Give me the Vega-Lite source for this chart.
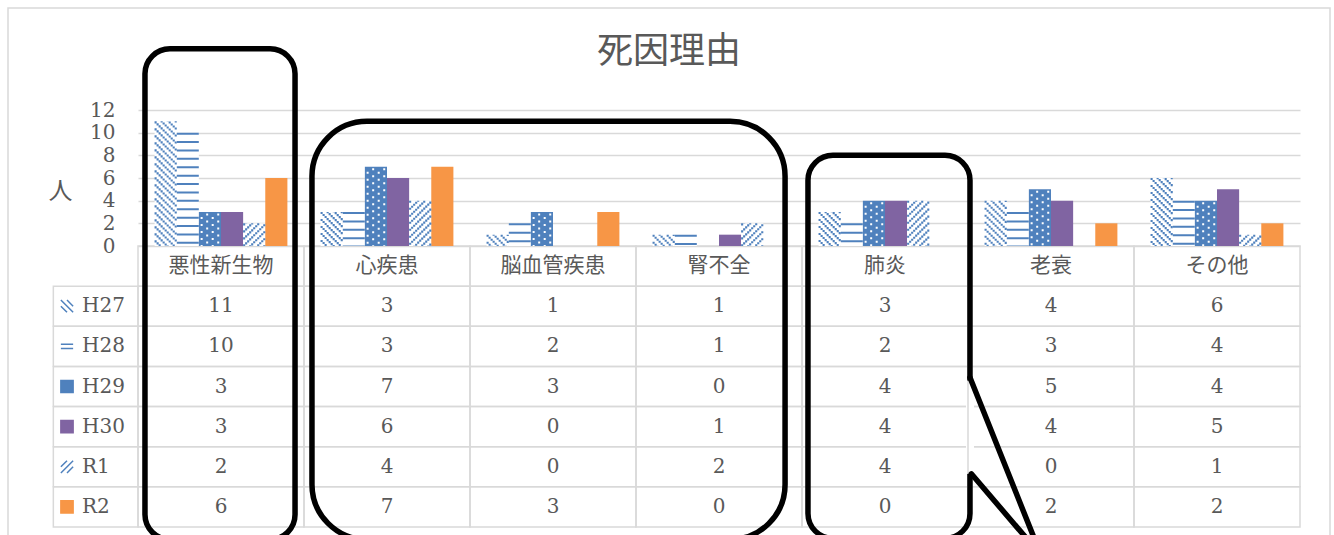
{
  "$schema": "https://vega.github.io/schema/vega-lite/v6.json",
  "autosize": "none",
  "width": 1322,
  "height": 540,
  "padding": {"left": 8, "top": 8, "right": 4, "bottom": 0},
  "background": "white",
  "config": {"view": {"stroke": "#d9d9d9", "strokeWidth": 1.5}},
  "title": {"text": "死因理由", "font": "Noto Sans CJK JP", "fontSize": 36, "fontWeight": "normal", "color": "#595959", "anchor": "middle", "frame": "group", "offset": -91, "baseline": "alphabetic"},
  "datasets": {
    "values": [
      {"cat": "悪性新生物", "series": "H27", "value": 11}, {"cat": "悪性新生物", "series": "H28", "value": 10}, {"cat": "悪性新生物", "series": "H29", "value": 3}, {"cat": "悪性新生物", "series": "H30", "value": 3}, {"cat": "悪性新生物", "series": "R1", "value": 2}, {"cat": "悪性新生物", "series": "R2", "value": 6},
      {"cat": "心疾患", "series": "H27", "value": 3}, {"cat": "心疾患", "series": "H28", "value": 3}, {"cat": "心疾患", "series": "H29", "value": 7}, {"cat": "心疾患", "series": "H30", "value": 6}, {"cat": "心疾患", "series": "R1", "value": 4}, {"cat": "心疾患", "series": "R2", "value": 7},
      {"cat": "脳血管疾患", "series": "H27", "value": 1}, {"cat": "脳血管疾患", "series": "H28", "value": 2}, {"cat": "脳血管疾患", "series": "H29", "value": 3}, {"cat": "脳血管疾患", "series": "H30", "value": 0}, {"cat": "脳血管疾患", "series": "R1", "value": 0}, {"cat": "脳血管疾患", "series": "R2", "value": 3},
      {"cat": "腎不全", "series": "H27", "value": 1}, {"cat": "腎不全", "series": "H28", "value": 1}, {"cat": "腎不全", "series": "H29", "value": 0}, {"cat": "腎不全", "series": "H30", "value": 1}, {"cat": "腎不全", "series": "R1", "value": 2}, {"cat": "腎不全", "series": "R2", "value": 0},
      {"cat": "肺炎", "series": "H27", "value": 3}, {"cat": "肺炎", "series": "H28", "value": 2}, {"cat": "肺炎", "series": "H29", "value": 4}, {"cat": "肺炎", "series": "H30", "value": 4}, {"cat": "肺炎", "series": "R1", "value": 4}, {"cat": "肺炎", "series": "R2", "value": 0},
      {"cat": "老衰", "series": "H27", "value": 4}, {"cat": "老衰", "series": "H28", "value": 3}, {"cat": "老衰", "series": "H29", "value": 5}, {"cat": "老衰", "series": "H30", "value": 4}, {"cat": "老衰", "series": "R1", "value": 0}, {"cat": "老衰", "series": "R2", "value": 2},
      {"cat": "その他", "series": "H27", "value": 6}, {"cat": "その他", "series": "H28", "value": 4}, {"cat": "その他", "series": "H29", "value": 4}, {"cat": "その他", "series": "H30", "value": 5}, {"cat": "その他", "series": "R1", "value": 1}, {"cat": "その他", "series": "R2", "value": 2}
    ],
    "cats": [{"cat": "悪性新生物"}, {"cat": "心疾患"}, {"cat": "脳血管疾患"}, {"cat": "腎不全"}, {"cat": "肺炎"}, {"cat": "老衰"}, {"cat": "その他"}],
    "series": [{"series": "H27"}, {"series": "H28"}, {"series": "H29"}, {"series": "H30"}, {"series": "R1"}, {"series": "R2"}]
  },
  "layer": [
    {
      "layer": [
        {"data": {"name": "values"}, "mark": {"type": "rect", "fill": "transparent", "stroke": "#d9d9d9", "strokeWidth": 1.5},
         "encoding": {
           "x": {"field": "cat", "type": "nominal", "scale": {"type": "band", "domain": ["悪性新生物","心疾患","脳血管疾患","腎不全","肺炎","老衰","その他"], "range": [130, 1292], "paddingInner": 0, "paddingOuter": 0}, "axis": null},
           "y": {"field": "series", "type": "nominal", "scale": {"type": "band", "domain": ["_cat","H27","H28","H29","H30","R1","R2"], "range": [238, 519], "paddingInner": 0, "paddingOuter": 0}, "axis": null}}},
        {"data": {"name": "cats"}, "mark": {"type": "rect", "fill": "transparent", "stroke": "#d9d9d9", "strokeWidth": 1.5},
         "encoding": {
           "x": {"field": "cat", "type": "nominal", "scale": {"type": "band", "domain": ["悪性新生物","心疾患","脳血管疾患","腎不全","肺炎","老衰","その他"], "range": [130, 1292], "paddingInner": 0, "paddingOuter": 0}, "axis": null},
           "y": {"datum": "_cat", "type": "nominal", "scale": {"type": "band", "domain": ["_cat","H27","H28","H29","H30","R1","R2"], "range": [238, 519], "paddingInner": 0, "paddingOuter": 0}, "axis": null}}},
        {"data": {"name": "series"}, "mark": {"type": "rect", "fill": "transparent", "stroke": "#d9d9d9", "strokeWidth": 1.5},
         "encoding": {
           "x": {"datum": "悪性新生物", "type": "nominal", "bandPosition": -0.51, "scale": {"type": "band", "domain": ["悪性新生物","心疾患","脳血管疾患","腎不全","肺炎","老衰","その他"], "range": [130, 1292], "paddingInner": 0, "paddingOuter": 0}, "axis": null},
           "x2": {"datum": "悪性新生物", "bandPosition": 0},
           "y": {"field": "series", "type": "nominal", "scale": {"type": "band", "domain": ["_cat","H27","H28","H29","H30","R1","R2"], "range": [238, 519], "paddingInner": 0, "paddingOuter": 0}, "axis": null}}},
        {"data": {"name": "values"}, "mark": {"type": "text", "font": "DejaVu Serif", "fontSize": 20, "color": "#595959", "baseline": "middle", "align": "center"},
         "encoding": {
           "x": {"field": "cat", "type": "nominal", "scale": {"type": "band", "domain": ["悪性新生物","心疾患","脳血管疾患","腎不全","肺炎","老衰","その他"], "range": [130, 1292], "paddingInner": 0, "paddingOuter": 0}, "axis": null},
           "y": {"field": "series", "type": "nominal", "scale": {"type": "band", "domain": ["_cat","H27","H28","H29","H30","R1","R2"], "range": [238, 519], "paddingInner": 0, "paddingOuter": 0}, "axis": null},
           "text": {"field": "value", "type": "quantitative"}}},
        {"data": {"name": "cats"}, "mark": {"type": "text", "font": "Noto Sans CJK JP", "fontSize": 21, "color": "#595959", "baseline": "middle", "align": "center"},
         "encoding": {
           "x": {"field": "cat", "type": "nominal", "scale": {"type": "band", "domain": ["悪性新生物","心疾患","脳血管疾患","腎不全","肺炎","老衰","その他"], "range": [130, 1292], "paddingInner": 0, "paddingOuter": 0}, "axis": null},
           "y": {"datum": "_cat", "type": "nominal", "scale": {"type": "band", "domain": ["_cat","H27","H28","H29","H30","R1","R2"], "range": [238, 519], "paddingInner": 0, "paddingOuter": 0}, "axis": null},
           "text": {"field": "cat", "type": "nominal"}}},
        {"data": {"name": "series"}, "mark": {"type": "text", "font": "DejaVu Serif", "fontSize": 20, "color": "#595959", "baseline": "middle", "align": "left"},
         "encoding": {
           "x": {"datum": "悪性新生物", "type": "nominal", "bandPosition": -0.337, "scale": {"type": "band", "domain": ["悪性新生物","心疾患","脳血管疾患","腎不全","肺炎","老衰","その他"], "range": [130, 1292], "paddingInner": 0, "paddingOuter": 0}, "axis": null},
           "y": {"field": "series", "type": "nominal", "scale": {"type": "band", "domain": ["_cat","H27","H28","H29","H30","R1","R2"], "range": [238, 519], "paddingInner": 0, "paddingOuter": 0}, "axis": null},
           "text": {"field": "series", "type": "nominal"}}},
        {"data": {"name": "series"}, "mark": {"type": "point", "filled": true, "size": 150, "strokeWidth": 1.5, "opacity": 1},
         "encoding": {
           "x": {"datum": "悪性新生物", "type": "nominal", "bandPosition": -0.4277, "scale": {"type": "band", "domain": ["悪性新生物","心疾患","脳血管疾患","腎不全","肺炎","老衰","その他"], "range": [130, 1292], "paddingInner": 0, "paddingOuter": 0}, "axis": null},
           "y": {"field": "series", "type": "nominal", "scale": {"type": "band", "domain": ["_cat","H27","H28","H29","H30","R1","R2"], "range": [238, 519], "paddingInner": 0, "paddingOuter": 0}, "axis": null},
           "shape": {"field": "series", "type": "nominal", "scale": {"domain": ["H27","H28","H29","H30","R1","R2"], "range": ["M-1,-1L1,1M-1,0L0,1M0,-1L1,0", "M-1,-0.35L1,-0.35M-1,0.35L1,0.35", "square", "square", "M-1,1L1,-1M-1,0L0,-1M0,1L1,0", "square"]}, "legend": null},
           "fill": {"field": "series", "type": "nominal", "scale": {"domain": ["H27","H28","H29","H30","R1","R2"], "range": ["#ffffff","#ffffff","#4F81BD","#8064A2","#ffffff","#F79646"]}, "legend": null},
           "stroke": {"field": "series", "type": "nominal", "scale": {"domain": ["H27","H28","H29","H30","R1","R2"], "range": ["#4F81BD","#4F81BD","#4F81BD","#8064A2","#4F81BD","#F79646"]}, "legend": null}}}
      ]
    },
    {
      "layer": [
        {"data": {"name": "values"}, "mark": {"type": "bar"},
         "encoding": {
           "x": {"field": "cat", "type": "nominal", "scale": {"type": "band", "domain": ["悪性新生物","心疾患","脳血管疾患","腎不全","肺炎","老衰","その他"], "range": [130, 1292], "paddingInner": 0, "paddingOuter": 0}, "axis": null},
           "xOffset": {"field": "series", "type": "nominal", "scale": {"type": "band", "domain": ["H27","H28","H29","H30","R1","R2"], "paddingInner": 0, "paddingOuter": 0.75}},
           "y": {"field": "value", "type": "quantitative", "scale": {"domain": [0, 12], "range": [238, 102], "nice": false, "zero": false},
                 "axis": {"orient": "left", "offset": -130, "values": [0, 2, 4, 6, 8, 10, 12], "grid": true, "gridColor": "#d9d9d9", "gridWidth": 1.5, "domain": false, "ticks": false, "tickSize": 0, "labelFont": "DejaVu Serif", "labelFontSize": 20, "labelColor": "#595959", "labelPadding": 23, "labelOverlap": false,
                          "title": "人", "titleAngle": 0, "titleX": -78, "titleY": 183, "titleAlign": "center", "titleBaseline": "middle", "titleFont": "Noto Sans CJK JP", "titleFontSize": 24, "titleFontWeight": "normal", "titleColor": "#595959"}},
           "fill": {"field": "series", "type": "nominal", "scale": {"domain": ["H27","H28","H29","H30","R1","R2"], "range": ["#ffffff","#ffffff","#4F81BD","#8064A2","#ffffff","#F79646"]}, "legend": null}}},
        {"data": {"name": "values"}, "transform": [{"filter": "datum.series === 'H28'"}], "mark": {"type": "rule", "stroke": "#4F81BD", "strokeWidth": 22, "strokeDash": [2, 6.4]},
         "encoding": {"x": {"field": "cat", "type": "nominal", "bandPosition": 0.3, "scale": {"type": "band", "domain": ["悪性新生物","心疾患","脳血管疾患","腎不全","肺炎","老衰","その他"], "range": [130, 1292], "paddingInner": 0, "paddingOuter": 0}, "axis": null}, "y": {"field": "value", "type": "quantitative", "scale": {"domain": [0, 12], "range": [238, 102], "nice": false, "zero": false}}, "y2": {"datum": 0}}},
        {"data": {"name": "values"}, "transform": [{"filter": "datum.series === 'H27'"}], "mark": {"type": "rule", "stroke": "#4F81BD", "strokeWidth": 2.1, "strokeDash": [2.1, 4.9], "strokeDashOffset": 0},
         "encoding": {"x": {"field": "cat", "type": "nominal", "bandPosition": 0.10606, "scale": {"type": "band", "domain": ["悪性新生物","心疾患","脳血管疾患","腎不全","肺炎","老衰","その他"], "range": [130, 1292], "paddingInner": 0, "paddingOuter": 0}, "axis": null}, "y": {"field": "value", "type": "quantitative", "scale": {"domain": [0, 12], "range": [238, 102], "nice": false, "zero": false}}, "y2": {"datum": 0}}},
        {"data": {"name": "values"}, "transform": [{"filter": "datum.series === 'H27'"}], "mark": {"type": "rule", "stroke": "#4F81BD", "strokeWidth": 2.1, "strokeDash": [2.1, 4.9], "strokeDashOffset": 4.988},
         "encoding": {"x": {"field": "cat", "type": "nominal", "bandPosition": 0.11818, "scale": {"type": "band", "domain": ["悪性新生物","心疾患","脳血管疾患","腎不全","肺炎","老衰","その他"], "range": [130, 1292], "paddingInner": 0, "paddingOuter": 0}, "axis": null}, "y": {"field": "value", "type": "quantitative", "scale": {"domain": [0, 12], "range": [238, 102], "nice": false, "zero": false}}, "y2": {"datum": 0}}},
        {"data": {"name": "values"}, "transform": [{"filter": "datum.series === 'H27'"}], "mark": {"type": "rule", "stroke": "#4F81BD", "strokeWidth": 2.1, "strokeDash": [2.1, 4.9], "strokeDashOffset": 2.976},
         "encoding": {"x": {"field": "cat", "type": "nominal", "bandPosition": 0.1303, "scale": {"type": "band", "domain": ["悪性新生物","心疾患","脳血管疾患","腎不全","肺炎","老衰","その他"], "range": [130, 1292], "paddingInner": 0, "paddingOuter": 0}, "axis": null}, "y": {"field": "value", "type": "quantitative", "scale": {"domain": [0, 12], "range": [238, 102], "nice": false, "zero": false}}, "y2": {"datum": 0}}},
        {"data": {"name": "values"}, "transform": [{"filter": "datum.series === 'H27'"}], "mark": {"type": "rule", "stroke": "#4F81BD", "strokeWidth": 2.1, "strokeDash": [2.1, 4.9], "strokeDashOffset": 0.964},
         "encoding": {"x": {"field": "cat", "type": "nominal", "bandPosition": 0.14242, "scale": {"type": "band", "domain": ["悪性新生物","心疾患","脳血管疾患","腎不全","肺炎","老衰","その他"], "range": [130, 1292], "paddingInner": 0, "paddingOuter": 0}, "axis": null}, "y": {"field": "value", "type": "quantitative", "scale": {"domain": [0, 12], "range": [238, 102], "nice": false, "zero": false}}, "y2": {"datum": 0}}},
        {"data": {"name": "values"}, "transform": [{"filter": "datum.series === 'H27'"}], "mark": {"type": "rule", "stroke": "#4F81BD", "strokeWidth": 2.1, "strokeDash": [2.1, 4.9], "strokeDashOffset": 5.952},
         "encoding": {"x": {"field": "cat", "type": "nominal", "bandPosition": 0.15455, "scale": {"type": "band", "domain": ["悪性新生物","心疾患","脳血管疾患","腎不全","肺炎","老衰","その他"], "range": [130, 1292], "paddingInner": 0, "paddingOuter": 0}, "axis": null}, "y": {"field": "value", "type": "quantitative", "scale": {"domain": [0, 12], "range": [238, 102], "nice": false, "zero": false}}, "y2": {"datum": 0}}},
        {"data": {"name": "values"}, "transform": [{"filter": "datum.series === 'H27'"}], "mark": {"type": "rule", "stroke": "#4F81BD", "strokeWidth": 2.1, "strokeDash": [2.1, 4.9], "strokeDashOffset": 3.94},
         "encoding": {"x": {"field": "cat", "type": "nominal", "bandPosition": 0.16667, "scale": {"type": "band", "domain": ["悪性新生物","心疾患","脳血管疾患","腎不全","肺炎","老衰","その他"], "range": [130, 1292], "paddingInner": 0, "paddingOuter": 0}, "axis": null}, "y": {"field": "value", "type": "quantitative", "scale": {"domain": [0, 12], "range": [238, 102], "nice": false, "zero": false}}, "y2": {"datum": 0}}},
        {"data": {"name": "values"}, "transform": [{"filter": "datum.series === 'H27'"}], "mark": {"type": "rule", "stroke": "#4F81BD", "strokeWidth": 2.1, "strokeDash": [2.1, 4.9], "strokeDashOffset": 1.928},
         "encoding": {"x": {"field": "cat", "type": "nominal", "bandPosition": 0.17879, "scale": {"type": "band", "domain": ["悪性新生物","心疾患","脳血管疾患","腎不全","肺炎","老衰","その他"], "range": [130, 1292], "paddingInner": 0, "paddingOuter": 0}, "axis": null}, "y": {"field": "value", "type": "quantitative", "scale": {"domain": [0, 12], "range": [238, 102], "nice": false, "zero": false}}, "y2": {"datum": 0}}},
        {"data": {"name": "values"}, "transform": [{"filter": "datum.series === 'H27'"}], "mark": {"type": "rule", "stroke": "#4F81BD", "strokeWidth": 2.1, "strokeDash": [2.1, 4.9], "strokeDashOffset": 6.916},
         "encoding": {"x": {"field": "cat", "type": "nominal", "bandPosition": 0.19091, "scale": {"type": "band", "domain": ["悪性新生物","心疾患","脳血管疾患","腎不全","肺炎","老衰","その他"], "range": [130, 1292], "paddingInner": 0, "paddingOuter": 0}, "axis": null}, "y": {"field": "value", "type": "quantitative", "scale": {"domain": [0, 12], "range": [238, 102], "nice": false, "zero": false}}, "y2": {"datum": 0}}},
        {"data": {"name": "values"}, "transform": [{"filter": "datum.series === 'H27'"}], "mark": {"type": "rule", "stroke": "#4F81BD", "strokeWidth": 2.1, "strokeDash": [2.1, 4.9], "strokeDashOffset": 4.904},
         "encoding": {"x": {"field": "cat", "type": "nominal", "bandPosition": 0.20303, "scale": {"type": "band", "domain": ["悪性新生物","心疾患","脳血管疾患","腎不全","肺炎","老衰","その他"], "range": [130, 1292], "paddingInner": 0, "paddingOuter": 0}, "axis": null}, "y": {"field": "value", "type": "quantitative", "scale": {"domain": [0, 12], "range": [238, 102], "nice": false, "zero": false}}, "y2": {"datum": 0}}},
        {"data": {"name": "values"}, "transform": [{"filter": "datum.series === 'H27'"}], "mark": {"type": "rule", "stroke": "#4F81BD", "strokeWidth": 2.1, "strokeDash": [2.1, 4.9], "strokeDashOffset": 2.892},
         "encoding": {"x": {"field": "cat", "type": "nominal", "bandPosition": 0.21515, "scale": {"type": "band", "domain": ["悪性新生物","心疾患","脳血管疾患","腎不全","肺炎","老衰","その他"], "range": [130, 1292], "paddingInner": 0, "paddingOuter": 0}, "axis": null}, "y": {"field": "value", "type": "quantitative", "scale": {"domain": [0, 12], "range": [238, 102], "nice": false, "zero": false}}, "y2": {"datum": 0}}},
        {"data": {"name": "values"}, "transform": [{"filter": "datum.series === 'H27'"}], "mark": {"type": "rule", "stroke": "#4F81BD", "strokeWidth": 2.1, "strokeDash": [2.1, 4.9], "strokeDashOffset": 0.88},
         "encoding": {"x": {"field": "cat", "type": "nominal", "bandPosition": 0.22727, "scale": {"type": "band", "domain": ["悪性新生物","心疾患","脳血管疾患","腎不全","肺炎","老衰","その他"], "range": [130, 1292], "paddingInner": 0, "paddingOuter": 0}, "axis": null}, "y": {"field": "value", "type": "quantitative", "scale": {"domain": [0, 12], "range": [238, 102], "nice": false, "zero": false}}, "y2": {"datum": 0}}},
        {"data": {"name": "values"}, "transform": [{"filter": "datum.series === 'R1'"}], "mark": {"type": "rule", "stroke": "#4F81BD", "strokeWidth": 2.1, "strokeDash": [2.1, 4.9], "strokeDashOffset": 0},
         "encoding": {"x": {"field": "cat", "type": "nominal", "bandPosition": 0.63939, "scale": {"type": "band", "domain": ["悪性新生物","心疾患","脳血管疾患","腎不全","肺炎","老衰","その他"], "range": [130, 1292], "paddingInner": 0, "paddingOuter": 0}, "axis": null}, "y": {"field": "value", "type": "quantitative", "scale": {"domain": [0, 12], "range": [238, 102], "nice": false, "zero": false}}, "y2": {"datum": 0}}},
        {"data": {"name": "values"}, "transform": [{"filter": "datum.series === 'R1'"}], "mark": {"type": "rule", "stroke": "#4F81BD", "strokeWidth": 2.1, "strokeDash": [2.1, 4.9], "strokeDashOffset": 2.012},
         "encoding": {"x": {"field": "cat", "type": "nominal", "bandPosition": 0.65152, "scale": {"type": "band", "domain": ["悪性新生物","心疾患","脳血管疾患","腎不全","肺炎","老衰","その他"], "range": [130, 1292], "paddingInner": 0, "paddingOuter": 0}, "axis": null}, "y": {"field": "value", "type": "quantitative", "scale": {"domain": [0, 12], "range": [238, 102], "nice": false, "zero": false}}, "y2": {"datum": 0}}},
        {"data": {"name": "values"}, "transform": [{"filter": "datum.series === 'R1'"}], "mark": {"type": "rule", "stroke": "#4F81BD", "strokeWidth": 2.1, "strokeDash": [2.1, 4.9], "strokeDashOffset": 4.024},
         "encoding": {"x": {"field": "cat", "type": "nominal", "bandPosition": 0.66364, "scale": {"type": "band", "domain": ["悪性新生物","心疾患","脳血管疾患","腎不全","肺炎","老衰","その他"], "range": [130, 1292], "paddingInner": 0, "paddingOuter": 0}, "axis": null}, "y": {"field": "value", "type": "quantitative", "scale": {"domain": [0, 12], "range": [238, 102], "nice": false, "zero": false}}, "y2": {"datum": 0}}},
        {"data": {"name": "values"}, "transform": [{"filter": "datum.series === 'R1'"}], "mark": {"type": "rule", "stroke": "#4F81BD", "strokeWidth": 2.1, "strokeDash": [2.1, 4.9], "strokeDashOffset": 6.036},
         "encoding": {"x": {"field": "cat", "type": "nominal", "bandPosition": 0.67576, "scale": {"type": "band", "domain": ["悪性新生物","心疾患","脳血管疾患","腎不全","肺炎","老衰","その他"], "range": [130, 1292], "paddingInner": 0, "paddingOuter": 0}, "axis": null}, "y": {"field": "value", "type": "quantitative", "scale": {"domain": [0, 12], "range": [238, 102], "nice": false, "zero": false}}, "y2": {"datum": 0}}},
        {"data": {"name": "values"}, "transform": [{"filter": "datum.series === 'R1'"}], "mark": {"type": "rule", "stroke": "#4F81BD", "strokeWidth": 2.1, "strokeDash": [2.1, 4.9], "strokeDashOffset": 1.048},
         "encoding": {"x": {"field": "cat", "type": "nominal", "bandPosition": 0.68788, "scale": {"type": "band", "domain": ["悪性新生物","心疾患","脳血管疾患","腎不全","肺炎","老衰","その他"], "range": [130, 1292], "paddingInner": 0, "paddingOuter": 0}, "axis": null}, "y": {"field": "value", "type": "quantitative", "scale": {"domain": [0, 12], "range": [238, 102], "nice": false, "zero": false}}, "y2": {"datum": 0}}},
        {"data": {"name": "values"}, "transform": [{"filter": "datum.series === 'R1'"}], "mark": {"type": "rule", "stroke": "#4F81BD", "strokeWidth": 2.1, "strokeDash": [2.1, 4.9], "strokeDashOffset": 3.06},
         "encoding": {"x": {"field": "cat", "type": "nominal", "bandPosition": 0.7, "scale": {"type": "band", "domain": ["悪性新生物","心疾患","脳血管疾患","腎不全","肺炎","老衰","その他"], "range": [130, 1292], "paddingInner": 0, "paddingOuter": 0}, "axis": null}, "y": {"field": "value", "type": "quantitative", "scale": {"domain": [0, 12], "range": [238, 102], "nice": false, "zero": false}}, "y2": {"datum": 0}}},
        {"data": {"name": "values"}, "transform": [{"filter": "datum.series === 'R1'"}], "mark": {"type": "rule", "stroke": "#4F81BD", "strokeWidth": 2.1, "strokeDash": [2.1, 4.9], "strokeDashOffset": 5.072},
         "encoding": {"x": {"field": "cat", "type": "nominal", "bandPosition": 0.71212, "scale": {"type": "band", "domain": ["悪性新生物","心疾患","脳血管疾患","腎不全","肺炎","老衰","その他"], "range": [130, 1292], "paddingInner": 0, "paddingOuter": 0}, "axis": null}, "y": {"field": "value", "type": "quantitative", "scale": {"domain": [0, 12], "range": [238, 102], "nice": false, "zero": false}}, "y2": {"datum": 0}}},
        {"data": {"name": "values"}, "transform": [{"filter": "datum.series === 'R1'"}], "mark": {"type": "rule", "stroke": "#4F81BD", "strokeWidth": 2.1, "strokeDash": [2.1, 4.9], "strokeDashOffset": 0.084},
         "encoding": {"x": {"field": "cat", "type": "nominal", "bandPosition": 0.72424, "scale": {"type": "band", "domain": ["悪性新生物","心疾患","脳血管疾患","腎不全","肺炎","老衰","その他"], "range": [130, 1292], "paddingInner": 0, "paddingOuter": 0}, "axis": null}, "y": {"field": "value", "type": "quantitative", "scale": {"domain": [0, 12], "range": [238, 102], "nice": false, "zero": false}}, "y2": {"datum": 0}}},
        {"data": {"name": "values"}, "transform": [{"filter": "datum.series === 'R1'"}], "mark": {"type": "rule", "stroke": "#4F81BD", "strokeWidth": 2.1, "strokeDash": [2.1, 4.9], "strokeDashOffset": 2.096},
         "encoding": {"x": {"field": "cat", "type": "nominal", "bandPosition": 0.73636, "scale": {"type": "band", "domain": ["悪性新生物","心疾患","脳血管疾患","腎不全","肺炎","老衰","その他"], "range": [130, 1292], "paddingInner": 0, "paddingOuter": 0}, "axis": null}, "y": {"field": "value", "type": "quantitative", "scale": {"domain": [0, 12], "range": [238, 102], "nice": false, "zero": false}}, "y2": {"datum": 0}}},
        {"data": {"name": "values"}, "transform": [{"filter": "datum.series === 'R1'"}], "mark": {"type": "rule", "stroke": "#4F81BD", "strokeWidth": 2.1, "strokeDash": [2.1, 4.9], "strokeDashOffset": 4.108},
         "encoding": {"x": {"field": "cat", "type": "nominal", "bandPosition": 0.74848, "scale": {"type": "band", "domain": ["悪性新生物","心疾患","脳血管疾患","腎不全","肺炎","老衰","その他"], "range": [130, 1292], "paddingInner": 0, "paddingOuter": 0}, "axis": null}, "y": {"field": "value", "type": "quantitative", "scale": {"domain": [0, 12], "range": [238, 102], "nice": false, "zero": false}}, "y2": {"datum": 0}}},
        {"data": {"name": "values"}, "transform": [{"filter": "datum.series === 'R1'"}], "mark": {"type": "rule", "stroke": "#4F81BD", "strokeWidth": 2.1, "strokeDash": [2.1, 4.9], "strokeDashOffset": 6.12},
         "encoding": {"x": {"field": "cat", "type": "nominal", "bandPosition": 0.76061, "scale": {"type": "band", "domain": ["悪性新生物","心疾患","脳血管疾患","腎不全","肺炎","老衰","その他"], "range": [130, 1292], "paddingInner": 0, "paddingOuter": 0}, "axis": null}, "y": {"field": "value", "type": "quantitative", "scale": {"domain": [0, 12], "range": [238, 102], "nice": false, "zero": false}}, "y2": {"datum": 0}}},
        {"data": {"name": "values"}, "transform": [{"filter": "datum.series === 'H29'"}], "mark": {"type": "rule", "stroke": "#ffffff", "strokeWidth": 2, "strokeDash": [2, 5], "strokeDashOffset": 2},
         "encoding": {"x": {"field": "cat", "type": "nominal", "bandPosition": 0.38333, "scale": {"type": "band", "domain": ["悪性新生物","心疾患","脳血管疾患","腎不全","肺炎","老衰","その他"], "range": [130, 1292], "paddingInner": 0, "paddingOuter": 0}, "axis": null}, "y": {"field": "value", "type": "quantitative", "scale": {"domain": [0, 12], "range": [238, 102], "nice": false, "zero": false}}, "y2": {"datum": 0}}},
        {"data": {"name": "values"}, "transform": [{"filter": "datum.series === 'H29'"}], "mark": {"type": "rule", "stroke": "#ffffff", "strokeWidth": 2, "strokeDash": [2, 5], "strokeDashOffset": 5.5},
         "encoding": {"x": {"field": "cat", "type": "nominal", "bandPosition": 0.41667, "scale": {"type": "band", "domain": ["悪性新生物","心疾患","脳血管疾患","腎不全","肺炎","老衰","その他"], "range": [130, 1292], "paddingInner": 0, "paddingOuter": 0}, "axis": null}, "y": {"field": "value", "type": "quantitative", "scale": {"domain": [0, 12], "range": [238, 102], "nice": false, "zero": false}}, "y2": {"datum": 0}}},
        {"data": {"name": "values"}, "transform": [{"filter": "datum.series === 'H29'"}], "mark": {"type": "rule", "stroke": "#ffffff", "strokeWidth": 2, "strokeDash": [2, 5], "strokeDashOffset": 2},
         "encoding": {"x": {"field": "cat", "type": "nominal", "bandPosition": 0.45, "scale": {"type": "band", "domain": ["悪性新生物","心疾患","脳血管疾患","腎不全","肺炎","老衰","その他"], "range": [130, 1292], "paddingInner": 0, "paddingOuter": 0}, "axis": null}, "y": {"field": "value", "type": "quantitative", "scale": {"domain": [0, 12], "range": [238, 102], "nice": false, "zero": false}}, "y2": {"datum": 0}}},
        {"data": {"name": "values"}, "transform": [{"filter": "datum.series === 'H29'"}], "mark": {"type": "rule", "stroke": "#ffffff", "strokeWidth": 2, "strokeDash": [2, 5], "strokeDashOffset": 5.5},
         "encoding": {"x": {"field": "cat", "type": "nominal", "bandPosition": 0.48333, "scale": {"type": "band", "domain": ["悪性新生物","心疾患","脳血管疾患","腎不全","肺炎","老衰","その他"], "range": [130, 1292], "paddingInner": 0, "paddingOuter": 0}, "axis": null}, "y": {"field": "value", "type": "quantitative", "scale": {"domain": [0, 12], "range": [238, 102], "nice": false, "zero": false}}, "y2": {"datum": 0}}},
        {"data": {"values": [{}]}, "mark": {"type": "rect", "fill": "transparent", "stroke": "black", "strokeWidth": 5.5, "cornerRadius": 25},
         "encoding": {"x": {"datum": "悪性新生物", "type": "nominal", "bandPosition": 0.042, "scale": {"type": "band", "domain": ["悪性新生物","心疾患","脳血管疾患","腎不全","肺炎","老衰","その他"], "range": [130, 1292], "paddingInner": 0, "paddingOuter": 0}, "axis": null}, "x2": {"datum": "悪性新生物", "bandPosition": 0.946},
                      "y": {"datum": 17.4, "type": "quantitative", "scale": {"domain": [0, 12], "range": [238, 102], "nice": false, "zero": false}}, "y2": {"datum": -25.9}}},
        {"data": {"values": [{}]}, "mark": {"type": "rect", "fill": "transparent", "stroke": "black", "strokeWidth": 5.5, "cornerRadius": 55},
         "encoding": {"x": {"datum": "心疾患", "type": "nominal", "bandPosition": 0.048, "scale": {"type": "band", "domain": ["悪性新生物","心疾患","脳血管疾患","腎不全","肺炎","老衰","その他"], "range": [130, 1292], "paddingInner": 0, "paddingOuter": 0}, "axis": null}, "x2": {"datum": "腎不全", "bandPosition": 0.898},
                      "y": {"datum": 11.0, "type": "quantitative", "scale": {"domain": [0, 12], "range": [238, 102], "nice": false, "zero": false}}, "y2": {"datum": -25.9}}},
        {"data": {"values": [{}]}, "mark": {"type": "rect", "fill": "transparent", "stroke": "black", "strokeWidth": 5.5, "cornerRadius": 25},
         "encoding": {"x": {"datum": "肺炎", "type": "nominal", "bandPosition": 0.036, "scale": {"type": "band", "domain": ["悪性新生物","心疾患","脳血管疾患","腎不全","肺炎","老衰","その他"], "range": [130, 1292], "paddingInner": 0, "paddingOuter": 0}, "axis": null}, "x2": {"datum": "肺炎", "bandPosition": 1.012},
                      "y": {"datum": 8.0, "type": "quantitative", "scale": {"domain": [0, 12], "range": [238, 102], "nice": false, "zero": false}}, "y2": {"datum": -25.8}}},
        {"data": {"values": [{}]}, "mark": {"type": "rule", "stroke": "white", "strokeWidth": 8},
         "encoding": {"x": {"datum": "肺炎", "type": "nominal", "bandPosition": 1.012, "scale": {"type": "band", "domain": ["悪性新生物","心疾患","脳血管疾患","腎不全","肺炎","老衰","その他"], "range": [130, 1292], "paddingInner": 0, "paddingOuter": 0}, "axis": null},
                      "y": {"datum": -11.9, "type": "quantitative", "scale": {"domain": [0, 12], "range": [238, 102], "nice": false, "zero": false}}, "y2": {"datum": -20.1}}},
        {"data": {"values": [{}]}, "mark": {"type": "rule", "stroke": "#d9d9d9", "strokeWidth": 1.5},
         "encoding": {"x": {"datum": "肺炎", "type": "nominal", "bandPosition": 1.0, "scale": {"type": "band", "domain": ["悪性新生物","心疾患","脳血管疾患","腎不全","肺炎","老衰","その他"], "range": [130, 1292], "paddingInner": 0, "paddingOuter": 0}, "axis": null},
                      "y": {"datum": -11.9, "type": "quantitative", "scale": {"domain": [0, 12], "range": [238, 102], "nice": false, "zero": false}}, "y2": {"datum": -20.1}}},
        {"data": {"values": [{}]}, "mark": {"type": "rule", "stroke": "black", "strokeWidth": 5.5, "strokeCap": "round"},
         "encoding": {"x": {"datum": "肺炎", "type": "nominal", "bandPosition": 1.012, "scale": {"type": "band", "domain": ["悪性新生物","心疾患","脳血管疾患","腎不全","肺炎","老衰","その他"], "range": [130, 1292], "paddingInner": 0, "paddingOuter": 0}, "axis": null}, "x2": {"datum": "老衰", "bandPosition": 0.44},
                      "y": {"datum": -11.6, "type": "quantitative", "scale": {"domain": [0, 12], "range": [238, 102], "nice": false, "zero": false}}, "y2": {"datum": -27.3}}},
        {"data": {"values": [{}]}, "mark": {"type": "rule", "stroke": "black", "strokeWidth": 5.5, "strokeCap": "round"},
         "encoding": {"x": {"datum": "肺炎", "type": "nominal", "bandPosition": 1.02, "scale": {"type": "band", "domain": ["悪性新生物","心疾患","脳血管疾患","腎不全","肺炎","老衰","その他"], "range": [130, 1292], "paddingInner": 0, "paddingOuter": 0}, "axis": null}, "x2": {"datum": "老衰", "bandPosition": 0.44},
                      "y": {"datum": -20.1, "type": "quantitative", "scale": {"domain": [0, 12], "range": [238, 102], "nice": false, "zero": false}}, "y2": {"datum": -27.3}}}
      ]
    }
  ],
  "resolve": {"scale": {"y": "independent"}}
}
